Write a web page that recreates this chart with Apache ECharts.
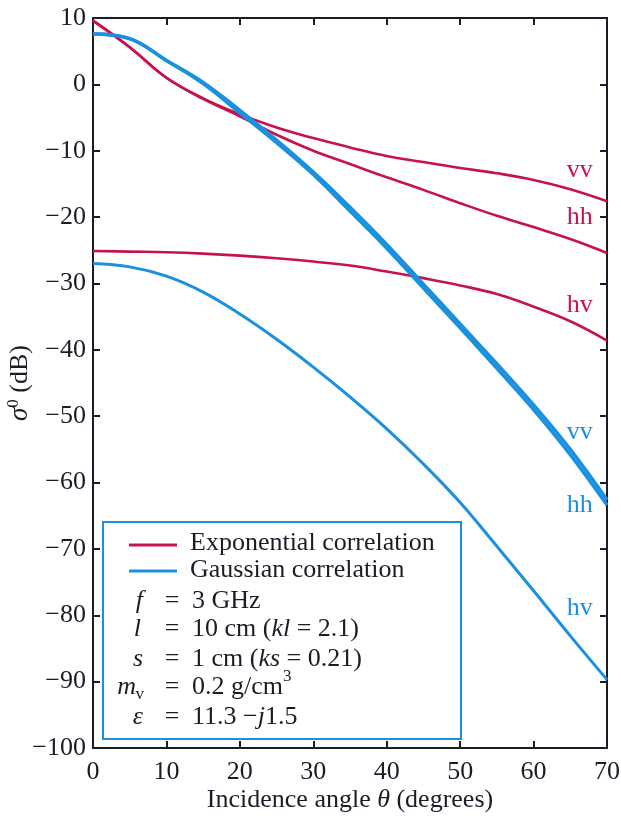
<!DOCTYPE html>
<html>
<head>
<meta charset="utf-8">
<script src="https://cdn.jsdelivr.net/npm/echarts@6/dist/echarts.min.js"></script>
<style>
  html, body { margin: 0; padding: 0; background: #ffffff; }
  #chart { width: 621px; height: 820px; }
</style>
</head>
<body>
<div id="chart"></div>
<script>
// Incidence angles (degrees) at which every curve is sampled
const angles = [0, 5, 10, 15, 20, 25, 30, 35, 40, 45, 50, 55, 60, 65, 70];

// Backscattering coefficient sigma0 (dB), exponential correlation
const expVV = [9.6, 5.6, 1.0, -2.1, -4.5, -6.5, -8.1, -9.5, -10.8, -11.7, -12.6, -13.4, -14.4, -15.8, -17.6];
const expHH = [9.6, 5.6, 1.0, -2.2, -4.8, -7.6, -10.0, -12.0, -14.0, -15.9, -17.9, -19.8, -21.5, -23.3, -25.4];
const expHV = [-25.1, -25.2, -25.3, -25.5, -25.8, -26.2, -26.7, -27.3, -28.2, -29.2, -30.3, -31.6, -33.5, -35.7, -38.6];

// Backscattering coefficient sigma0 (dB), Gaussian correlation
const gauVV = [7.6, 6.9, 3.6, 0.3, -3.9, -8.4, -13.2, -18.5, -24.1, -30.1, -36.1, -42.1, -48.3, -55.0, -62.6];
const gauHH = [7.6, 6.9, 3.6, 0.1, -4.3, -8.8, -13.6, -19.1, -24.7, -30.7, -36.7, -42.8, -49.0, -55.8, -63.4];
const gauHV = [-27.0, -27.5, -28.9, -31.3, -34.6, -38.4, -42.6, -47.1, -51.9, -57.2, -63.0, -69.6, -76.3, -83.1, -89.7];

// Axis ranges
const xTicks = [0, 10, 20, 30, 40, 50, 60, 70];
const yTicks = [-100, -90, -80, -70, -60, -50, -40, -30, -20, -10, 0, 10];

// Polarisation tags at the right end of each curve family
const curveTags = ['vv', 'hh', 'hv'];

const RED = '#c8124c';
const BLUE = '#1a90e0';
const INK = '#1c1c28';
const SERIF = '"Liberation Serif", "DejaVu Serif", serif';
const FS = 26;

const chart = echarts.init(document.getElementById('chart'), null, { renderer: 'canvas' });

function pairs(ys) { return angles.map((a, i) => [a, ys[i]]); }
function minusSign(v) { return String(v).replace('-', '\u2212'); }

function curve(name, ys, color, width) {
  return {
    name: name, type: 'line', data: pairs(ys), smooth: 0.4,
    showSymbol: false, symbol: 'none', clip: true,
    lineStyle: { color: color, width: width }, z: 3
  };
}

function axisCommon() {
  return {
    axisLine: { show: true, onZero: false, lineStyle: { color: INK, width: 2 } },
    axisTick: { show: true, inside: true, length: 7, lineStyle: { color: INK, width: 2 } },
    splitLine: { show: false }
  };
}

const option = {
  backgroundColor: '#ffffff',
  animation: false,
  grid: { left: 93, right: 14, top: 18, bottom: 72, containLabel: false, outerBoundsMode: 'none' },
  xAxis: [
    Object.assign({
      type: 'value', min: xTicks[0], max: xTicks[xTicks.length - 1], interval: 10, position: 'bottom',
      axisLabel: { color: INK, fontFamily: SERIF, fontSize: FS, margin: 11 },
      name: 'Incidence angle {i|\u03b8} (degrees)', nameLocation: 'middle', nameGap: 39, nameMoveOverlap: false,
      nameTextStyle: { color: INK, fontFamily: SERIF, fontSize: FS,
        rich: { i: { fontStyle: 'italic', fontFamily: SERIF, fontSize: FS, color: INK } } }
    }, axisCommon()),
    Object.assign({
      type: 'value', min: xTicks[0], max: xTicks[xTicks.length - 1], interval: 10, position: 'top',
      axisLabel: { show: false }
    }, axisCommon())
  ],
  yAxis: [
    Object.assign({
      type: 'value', min: yTicks[0], max: yTicks[yTicks.length - 1], interval: 10, position: 'left',
      axisLabel: { color: INK, fontFamily: SERIF, fontSize: FS, margin: 7, formatter: minusSign },
      name: '{s|\u03c3}{sup|0}{n| (dB)}', nameLocation: 'middle', nameRotate: 90, nameGap: 60, nameMoveOverlap: false,
      nameTextStyle: { color: INK, fontFamily: SERIF, fontSize: FS,
        rich: {
          s: { fontStyle: 'italic', fontFamily: SERIF, fontSize: 27, color: INK, verticalAlign: 'bottom', lineHeight: 28 },
          sup: { fontFamily: SERIF, fontSize: 17, color: INK, verticalAlign: 'top', lineHeight: 28 },
          n: { fontFamily: SERIF, fontSize: FS, color: INK, verticalAlign: 'bottom', lineHeight: 28 }
        } }
    }, axisCommon()),
    Object.assign({
      type: 'value', min: yTicks[0], max: yTicks[yTicks.length - 1], interval: 10, position: 'right',
      axisLabel: { show: false }
    }, axisCommon())
  ],
  series: [
    curve('Exponential vv', expVV, RED, 2.6),
    curve('Exponential hh', expHH, RED, 2.6),
    curve('Exponential hv', expHV, RED, 2.6),
    curve('Gaussian vv', gauVV, BLUE, 3.4),
    curve('Gaussian hh', gauHH, BLUE, 3.4),
    curve('Gaussian hv', gauHV, BLUE, 3)
  ]
};

chart.setOption(option);

// Tags and parameter box, positioned from data coordinates where they refer to curves
function px(theta, db) { return chart.convertToPixel({ xAxisIndex: 0, yAxisIndex: 0 }, [theta, db]); }

const tagSpots = [
  { tag: curveTags[0], color: RED, at: [66.3, -12.9] },
  { tag: curveTags[1], color: RED, at: [66.3, -20.0] },
  { tag: curveTags[2], color: RED, at: [66.3, -33.2] },
  { tag: curveTags[0], color: BLUE, at: [66.3, -52.4] },
  { tag: curveTags[1], color: BLUE, at: [66.3, -63.4] },
  { tag: curveTags[2], color: BLUE, at: [66.3, -78.9] }
];

const graphics = [];
tagSpots.forEach(t => {
  const p = px(t.at[0], t.at[1]);
  graphics.push({
    type: 'text', x: p[0], y: p[1], z: 10,
    style: { text: t.tag, fill: t.color, font: FS + 'px ' + SERIF, textAlign: 'center', textVerticalAlign: 'middle' }
  });
});

// Legend and parameter box
const box = { x: 103, y: 522, w: 358, h: 217 };
graphics.push({
  type: 'rect', z: 8, shape: { x: box.x, y: box.y, width: box.w, height: box.h },
  style: { fill: '#ffffff', stroke: BLUE, lineWidth: 2 }
});

function line(y, color) {
  graphics.push({ type: 'line', z: 9, shape: { x1: 129, y1: y, x2: 177, y2: y }, style: { stroke: color, lineWidth: 3 } });
}
function txt(x, y, s, opts) {
  opts = opts || {};
  graphics.push({
    type: 'text', x: x, y: y, z: 9,
    style: {
      text: s, fill: INK,
      font: (opts.italic ? 'italic ' : '') + (opts.size || FS) + 'px ' + SERIF,
      textAlign: opts.align || 'left', textVerticalAlign: 'middle'
    }
  });
}
function richTxt(x, y, s) {
  graphics.push({
    type: 'text', x: x, y: y, z: 9,
    style: {
      text: s, fill: INK, font: FS + 'px ' + SERIF, textVerticalAlign: 'middle',
      rich: { i: { fontStyle: 'italic', fontFamily: SERIF, fontSize: FS, fill: INK } }
    }
  });
}

line(545, RED);
txt(190, 543, 'Exponential correlation');
line(571, BLUE);
txt(190, 570, 'Gaussian correlation');

const rowsY = [601, 629, 659, 687, 717];
const symX = 143, eqX = 172, valX = 192;

// f = 3 GHz
txt(symX, rowsY[0], 'f', { italic: true, align: 'right' });
txt(eqX, rowsY[0], '=', { align: 'center' });
txt(valX, rowsY[0], '3 GHz');

// l = 10 cm (kl = 2.1)
txt(symX - 2, rowsY[1], 'l', { italic: true, align: 'right' });
txt(eqX, rowsY[1], '=', { align: 'center' });
richTxt(valX, rowsY[1], '10 cm ({i|kl} = 2.1)');

// s = 1 cm (ks = 0.21)
txt(symX, rowsY[2], 's', { italic: true, align: 'right' });
txt(eqX, rowsY[2], '=', { align: 'center' });
richTxt(valX, rowsY[2], '1 cm ({i|ks} = 0.21)');

// m_v = 0.2 g/cm^3
txt(symX - 7, rowsY[3], 'm', { italic: true, align: 'right' });
txt(symX + 1, rowsY[3] + 8, 'v', { align: 'right', size: 17 });
txt(eqX, rowsY[3], '=', { align: 'center' });
txt(valX, rowsY[3], '0.2 g/cm');
txt(valX + 91, rowsY[3] - 10, '3', { size: 17 });

// epsilon = 11.3 - j1.5
txt(symX, rowsY[4], '\u03b5', { italic: true, align: 'right' });
txt(eqX, rowsY[4], '=', { align: 'center' });
richTxt(valX, rowsY[4], '11.3 \u2212{i|j}1.5');

chart.setOption({ graphic: graphics });
</script>
</body>
</html>
